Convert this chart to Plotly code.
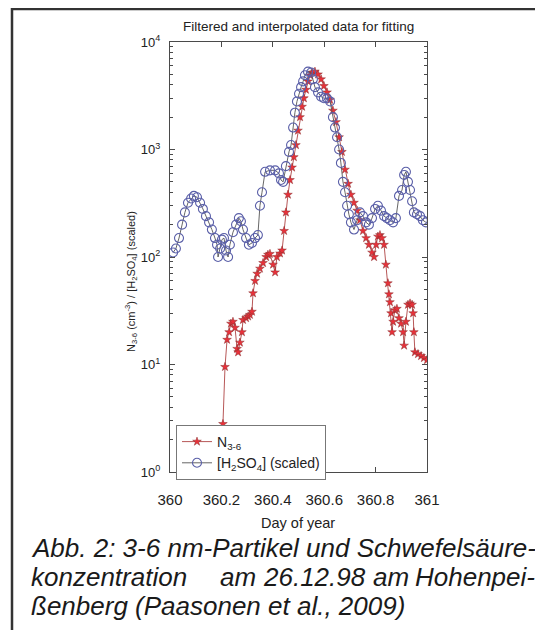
import plotly.graph_objects as go

# ---------------- data ----------------
day_h2so4 = [360.012, 360.023, 360.035, 360.047, 360.058, 360.070, 360.082, 360.093, 360.105, 360.117,
             360.128, 360.140, 360.152, 360.163, 360.175, 360.183, 360.187, 360.195, 360.202, 360.210,
             360.218, 360.226, 360.233, 360.245, 360.257, 360.268, 360.276, 360.284, 360.296, 360.307,
             360.319, 360.331, 360.342, 360.350, 360.358, 360.370, 360.389, 360.409, 360.424, 360.432,
             360.440, 360.451, 360.463, 360.471, 360.479, 360.486, 360.494, 360.502, 360.510, 360.518,
             360.525, 360.537, 360.549, 360.556, 360.564, 360.576, 360.588, 360.599, 360.611, 360.623,
             360.634, 360.642, 360.650, 360.658, 360.665, 360.673, 360.681, 360.689, 360.696, 360.704,
             360.716, 360.728, 360.739, 360.751, 360.763, 360.774, 360.786, 360.798, 360.809, 360.821,
             360.833, 360.844, 360.856, 360.868, 360.879, 360.891, 360.903, 360.911, 360.918, 360.926,
             360.934, 360.942, 360.949, 360.961, 360.973, 360.984, 360.996]
h2so4_scaled = [110, 120, 150, 200, 260, 320, 350, 370, 360, 320,
                280, 240, 210, 180, 150, 130, 100, 120, 145, 150,
                115, 100, 130, 170, 200, 230, 215, 180, 150, 130,
                135, 150, 160, 300, 400, 620, 640, 640, 600, 520,
                500, 700, 950, 1100, 1600, 2200, 2800, 3300, 3800, 4300,
                4900, 5300, 5200, 4500, 3800, 3400, 3100, 3000, 3000, 2800,
                2000, 1600, 1300, 1000, 750, 500, 400, 300, 250, 210,
                180, 220, 260, 240, 210, 200, 230, 280, 300, 270,
                240, 230, 220, 210, 230, 370, 420, 580, 620, 500,
                420, 330, 260, 250, 240, 220, 210]

day_n36 = [360.206, 360.214, 360.222, 360.230, 360.237, 360.245, 360.253, 360.261, 360.265, 360.272,
           360.280, 360.284, 360.296, 360.304, 360.311, 360.319, 360.323, 360.331, 360.339, 360.350,
           360.362, 360.374, 360.381, 360.389, 360.401, 360.409, 360.416, 360.428, 360.436, 360.444,
           360.451, 360.459, 360.467, 360.475, 360.482, 360.490, 360.498, 360.506, 360.514, 360.521,
           360.529, 360.537, 360.545, 360.553, 360.564, 360.576, 360.588, 360.599, 360.611, 360.623,
           360.634, 360.646, 360.658, 360.669, 360.681, 360.693, 360.704, 360.716, 360.728, 360.739,
           360.751, 360.763, 360.774, 360.786, 360.794, 360.802, 360.809, 360.817, 360.825, 360.833,
           360.840, 360.848, 360.852, 360.856, 360.860, 360.864, 360.868, 360.875, 360.883, 360.891,
           360.899, 360.907, 360.911, 360.918, 360.926, 360.934, 360.942, 360.946, 360.949, 360.953,
           360.965, 360.977, 360.988, 361.000]
n36 = [2.8, 9.5, 17, 20, 24, 25, 22, 14, 13, 16,
       20, 26, 27, 28, 29, 31, 46, 60, 70, 78,
       88, 100, 105, 107, 85, 72, 100, 108, 115, 175,
       260, 380, 520, 680, 850, 1100, 1500, 2000, 2500, 3000,
       3600, 4300, 4900, 5200, 5300, 5000, 4500, 3900, 3400, 2900,
       2300, 1800, 1300, 950, 650, 480, 380, 320, 270, 220,
       175, 150, 130, 110, 100, 130, 155, 160, 150, 130,
       85, 57, 45, 38, 30, 20, 25, 32, 33, 27,
       24, 20, 15, 25, 36, 37, 36, 30, 20, 13,
       12.5, 12, 11.5, 11]

x_tick_vals = [360, 360.2, 360.4, 360.6, 360.8, 361]
x_tick_text = ["360", "360.2", "360.4", "360.6", "360.8", "361"]
y_tick_vals = [1, 10, 100, 1000, 10000]
y_tick_text = ["10<sup>0</sup>", "10<sup>1</sup>", "10<sup>2</sup>", "10<sup>3</sup>", "10<sup>4</sup>"]
y_minor_vals = [m * 10 ** k for k in range(4) for m in range(2, 10)]

# ---------------- layout helpers (page pixel -> paper coords) ----------------
OFF = 8                     # page body margin around the figure
W, H = 543 - OFF, 630 - OFF
L, T = 170 - OFF, 42 - OFF
PW, PH = 257, 430
R, B = W - L - PW, H - T - PH


def px(x):
    return (x - OFF - L) / PW


def py(y):
    return (H - B - (y - OFF)) / PH


FONT = "Liberation Sans, Arial, sans-serif"
AX = "#4a4a4a"

fig = go.Figure()
fig.add_trace(go.Scatter(
    x=day_n36, y=n36, mode="lines+markers", name="N<sub>3-6</sub>",
    line=dict(color="#b85858", width=1),
    marker=dict(symbol="star", size=6.5, color="#e8313a", line=dict(color="#8a3030", width=0.5)),
))
fig.add_trace(go.Scatter(
    x=day_h2so4, y=h2so4_scaled, mode="lines+markers", name="[H<sub>2</sub>SO<sub>4</sub>] (scaled)",
    line=dict(color="#555555", width=0.9),
    marker=dict(symbol="circle-open", size=9, color="#5a5fa8", line=dict(color="#5a5fa8", width=1.1)),
))

annotations = [
    dict(text="Filtered and interpolated data for fitting", x=px(298), y=py(27),
         font=dict(size=13.5, color="#222")),
    dict(text="N<sub>3-6</sub> (cm<sup>-3</sup>) / [H<sub>2</sub>SO<sub>4</sub>] (scaled)",
         x=px(131), y=py(282), textangle=-90, font=dict(size=11, color="#222")),
    dict(text="Day of year", x=px(298), y=py(523), font=dict(size=14.5, color="#222")),
]
cap_font = dict(size=26, color="#1a1a1a", family="Liberation Sans, Arial, sans-serif")
annotations.append(dict(text="<i>Abb. 2: 3-6 nm-Partikel und Schwefelsäure-</i>", x=px(29), y=py(548),
                        xanchor="left", font=cap_font))
for word, xx in [("konzentration", 29), ("am", 218), ("26.12.98", 261), ("am", 371), ("Hohenpei-", 413)]:
    annotations.append(dict(text="<i>" + word + "</i>", x=px(xx), y=py(577), xanchor="left", font=cap_font))
annotations.append(dict(text="<i>ßenberg (Paasonen et al., 2009)</i>", x=px(29), y=py(606),
                        xanchor="left", font=cap_font))
for a in annotations:
    a.setdefault("xanchor", "center")
    a.update(xref="paper", yref="paper", showarrow=False, yanchor="middle")

fig.update_layout(
    width=W, height=H,
    margin=dict(l=L, r=R, t=T, b=B, pad=0),
    paper_bgcolor="white", plot_bgcolor="white",
    font=dict(family=FONT, color="#222"),
    showlegend=True,
    legend=dict(x=px(176), y=py(425), xanchor="left", yanchor="top",
                bgcolor="white", bordercolor="#777", borderwidth=1,
                font=dict(size=14, color="#222"), tracegroupgap=0, itemwidth=30),
    annotations=annotations,
    shapes=[dict(type="rect", xref="paper", yref="paper",
                 x0=px(12), x1=px(580), y0=py(660), y1=py(9),
                 line=dict(color="#333", width=2.5), fillcolor="rgba(0,0,0,0)", layer="below")],
)
fig.update_xaxes(range=[360, 361], tickvals=x_tick_vals, ticktext=x_tick_text,
                 showline=True, linecolor=AX, linewidth=1, mirror="ticks",
                 ticks="inside", ticklen=5, tickcolor=AX, showgrid=False, zeroline=False,
                 tickfont=dict(size=15, color="#222"), ticklabelstandoff=14)
fig.update_yaxes(type="log", range=[0, 4], tickvals=y_tick_vals, ticktext=y_tick_text,
                 showline=True, linecolor=AX, linewidth=1, mirror="ticks",
                 ticks="inside", ticklen=5, tickcolor=AX, showgrid=False, zeroline=False,
                 tickfont=dict(size=13, color="#222"), ticklabelstandoff=6,
                 minor=dict(tickvals=y_minor_vals, ticks="inside", ticklen=3, tickcolor=AX, showgrid=False))

fig.write_html("out.html")
